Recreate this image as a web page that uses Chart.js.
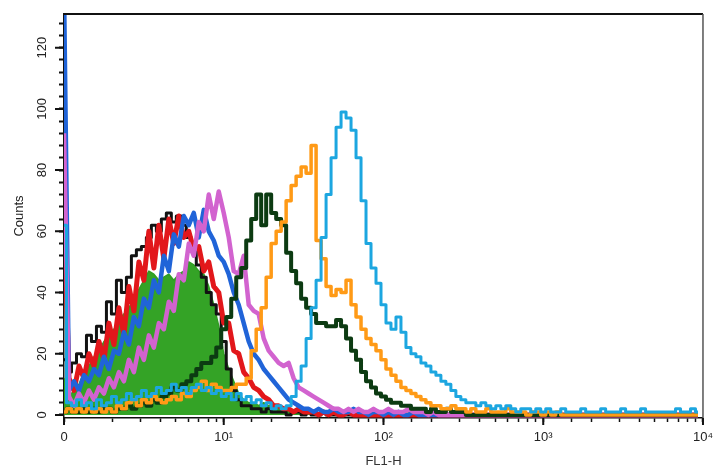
<!DOCTYPE html>
<html lang="en">
<head>
  <meta charset="UTF-8">
  <title>FL1-H histogram overlay</title>
  <script src="https://cdn.jsdelivr.net/npm/chart.js"></script>
  <style>
    html, body { margin: 0; padding: 0; background: #fff; }
    #wrap { width: 721px; height: 472px; }
  </style>
</head>
<body>
  <div id="wrap"><canvas id="histo"></canvas></div>

  <script>
    // channel bins (0..1023 over 4 log decades), one value every 8 channels
    const binCount = 128;
    const binStep = 8;
    const channelsPerDecade = 256;

    const decadeLabels = ['0', '10\u00b9', '10\u00b2', '10\u00b3', '10\u2074'];
    const decadeValues = [1, 10, 100, 1000, 10000];
    const countLabels = [0, 20, 40, 60, 80, 100, 120];

    // counts per bin
    const cyanCounts = [62,4,3,5,3,4,2,5,3,4,6,4,5,7,5,6,8,6,7,9,7,8,10,8,9,7,9,10,8,9,7,8,6,7,5,7,5,6,4,5,3,4,2,3,2,3,6,11,16,25,35,44,58,72,84,94,99,97,93,84,70,56,48,43,36,30,28,32,27,22,20,19,17,16,14,13,11,10,8,6,5,4,4,3,4,3,2,3,2,3,2,1,2,2,1,2,1,2,1,1,2,1,1,1,2,1,1,1,2,1,1,1,2,1,1,1,2,1,1,1,1,1,1,2,1,1,2,1];
    const orangeCounts = [1,2,1,2,1,2,1,2,1,2,1,3,2,4,5,3,5,4,6,5,4,5,6,5,7,6,8,9,11,8,10,9,8,8,9,10,10,12,21,28,35,45,56,60,63,70,75,78,81,79,88,57,51,42,39,41,40,44,36,32,28,25,23,21,18,15,13,11,9,8,7,6,5,4,3,3,2,2,3,2,2,1,2,1,1,2,1,1,1,2,1,1,1,0,1,1,0,1,0,1];
    const darkGreenCounts = [1,2,1,1,2,1,2,1,2,2,1,2,2,3,2,3,4,3,5,4,6,7,9,8,10,11,13,15,17,17,19,22,28,32,38,45,48,57,64,72,62,72,66,64,62,53,47,43,38,35,33,30,30,29,29,31,29,25,21,18,14,11,9,7,6,5,4,4,3,3,2,2,2,1,2,1,1,2,1,1,1];
    const magentaCounts = [92,6,3,7,4,8,5,9,7,12,9,14,11,18,14,22,18,26,22,30,28,37,34,46,44,56,52,63,60,72,64,73,66,58,47,46,52,36,34,33,25,21,19,17,16,17,12,9,8,7,6,5,4,3,2,2,1,2,1,2,1,1,2,1,1,2,1,1,1,2,1,1,1,0,1];
    const blueCounts = [140,8,11,8,13,11,15,13,19,15,21,20,27,23,32,29,38,35,44,40,52,47,59,55,65,62,66,58,67,60,57,52,50,46,40,36,30,24,20,18,15,13,11,9,7,5,4,3,2,2,1,2,1,1,2,1,1,1,2,1,1,0,1,1,0,1,0,1,0,0,1];
    const redCounts = [68,12,8,16,12,20,16,24,18,30,23,35,26,42,34,50,44,60,48,62,51,64,56,65,58,60,54,55,47,50,42,40,30,30,21,20,14,12,9,8,6,5,3,3,2,2,1,2,1,1,1,0,1,0,1,0,0,1];
    const blackCounts = [18,14,17,20,19,26,24,29,27,37,33,44,40,45,52,54,55,58,62,60,64,66,63,65,62,58,55,49,45,40,36,33,24,15,8,5,3,3,2,2,1,2,1,1,1,0,1,1,0,1,0,0,1];
    const greenCounts = [12,6,8,10,14,16,19,21,24,26,28,31,33,35,38,41,44,47,46,44,45,46,44,46,47,50,49,47,46,42,36,29,20,15,11,7,5,4,4,3,4,3,3,2,2,1,1,1,0,1,0,0,1];

    const binValues = Array.from({ length: binCount }, (_, i) => Math.pow(10, (i * binStep) / channelsPerDecade));

    const toPoints = counts => binValues.map((x, i) => ({ x: x, y: counts[i] || 0 }));

    const histLine = (counts, color, width, stepped) => ({
      data: toPoints(counts),
      borderColor: color,
      borderWidth: width,
      borderJoinStyle: 'round',
      stepped: stepped ? 'middle' : false,
      pointRadius: 0,
      tension: 0,
      fill: false
    });

    const green = histLine(greenCounts, '#2f9e22', 1.5, false);
    green.fill = 'origin';
    green.backgroundColor = '#34a326';

    // first dataset is drawn on top; the noisy left-hand curves stay as zigzags
    const datasets = [
      histLine(cyanCounts, '#1ca6e0', 3, true),
      histLine(orangeCounts, '#ff9a16', 3.5, true),
      histLine(darkGreenCounts, '#0c3b12', 4, true),
      histLine(magentaCounts, '#d263cf', 4.5, false),
      histLine(blueCounts, '#2064d8', 4.5, false),
      histLine(redCounts, '#e2171b', 5, false),
      histLine(blackCounts, '#121212', 3, true),
      green
    ];

    // top/right frame plus longer ticks at the labelled values
    const framePlugin = {
      id: 'frame',
      afterDatasetsDraw(chart) {
        const { ctx, chartArea: a, scales } = chart;
        ctx.save();
        ctx.strokeStyle = '#111';
        ctx.lineWidth = 2;
        ctx.beginPath();
        ctx.moveTo(a.left, a.top);
        ctx.lineTo(a.right, a.top);
        ctx.stroke();
        ctx.strokeStyle = '#555';
        ctx.lineWidth = 1.5;
        ctx.beginPath();
        ctx.moveTo(a.right, a.top);
        ctx.lineTo(a.right, a.bottom);
        ctx.stroke();

        ctx.strokeStyle = '#111';
        ctx.lineWidth = 2;
        ctx.beginPath();
        countLabels.forEach(v => {
          const y = scales.y.getPixelForValue(v);
          ctx.moveTo(a.left - 9, y);
          ctx.lineTo(a.left, y);
        });
        decadeValues.forEach(v => {
          const x = scales.x.getPixelForValue(v);
          ctx.moveTo(x, a.bottom);
          ctx.lineTo(x, a.bottom + 7);
        });
        ctx.stroke();
        ctx.restore();
      }
    };

    const labelFont = { family: 'Liberation Sans, Arial, sans-serif', size: 13 };

    new Chart(document.getElementById('histo'), {
      type: 'line',
      data: { datasets: datasets },
      plugins: [framePlugin],
      options: {
        responsive: true,
        maintainAspectRatio: false,
        animation: false,
        layout: { padding: { left: 8, right: 11, top: 14, bottom: 0 } },
        plugins: { legend: { display: false }, tooltip: { enabled: false } },
        scales: {
          x: {
            type: 'logarithmic',
            min: 1,
            max: 10000,
            afterFit(scale) { scale.height = 54; },
            grid: { drawOnChartArea: false, tickLength: 4, tickWidth: 1.5, tickColor: '#111' },
            border: { color: '#111', width: 1.5 },
            ticks: {
              autoSkip: false,
              maxRotation: 0,
              padding: 8,
              color: '#222',
              font: labelFont,
              callback(v) {
                const e = Math.round(Math.log10(v));
                return Math.abs(Math.log10(v) - e) < 1e-9 ? decadeLabels[e] : '';
              }
            },
            title: { display: true, text: 'FL1-H', color: '#333', font: labelFont, padding: { top: 0, bottom: 3 } }
          },
          y: {
            min: -1,
            max: 131,
            afterFit(scale) { scale.width = 56; },
            afterBuildTicks(scale) {
              scale.ticks = Array.from({ length: 33 }, (_, k) => ({ value: k * 4 }));
            },
            grid: { drawOnChartArea: false, tickLength: 5, tickWidth: 2, tickColor: '#111' },
            border: { color: '#111', width: 1.5 },
            ticks: {
              autoSkip: false,
              minRotation: 90,
              maxRotation: 90,
              crossAlign: 'center',
              padding: 6,
              color: '#222',
              font: labelFont,
              callback(v) { return countLabels.includes(v) ? String(v) : ''; }
            },
            title: { display: true, text: 'Counts', color: '#222', font: labelFont, padding: { top: 4, bottom: 4 } }
          }
        }
      }
    });
  </script>
</body>
</html>
